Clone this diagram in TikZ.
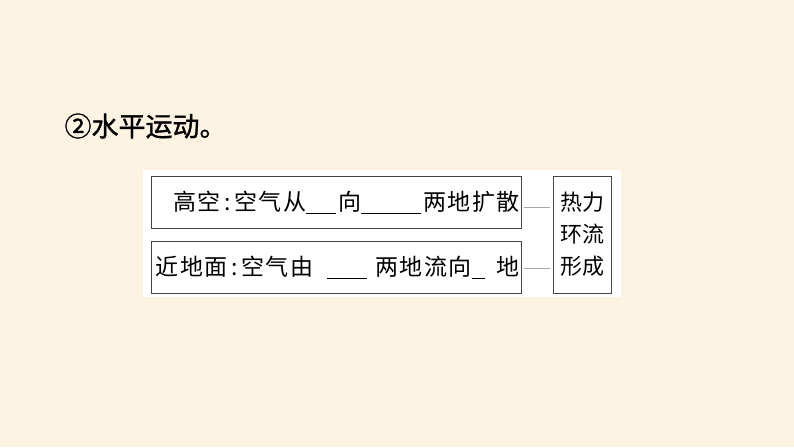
\documentclass[tikz,border=0pt]{standalone}
\usepackage{fontspec}
\usepackage{tikz}
\newfontfamily\cjk{Noto Sans CJK SC}
\newfontfamily\cjkbold{Noto Sans CJK SC}[FakeBold=1.2]
\newfontfamily\cjkbox[LetterSpace=6]{Noto Sans CJK SC}
\definecolor{paper}{RGB}{253,243,227}
\definecolor{boxline}{RGB}{70,70,70}
\newcommand{\blank}[1]{\rule[-3pt]{#1}{0.7pt}}

\begin{document}
\begin{tikzpicture}[x=1pt,y=-1pt,
  box/.style={draw=boxline,line width=0.9pt,inner xsep=2pt,inner ysep=0pt},
  link/.style={draw=gray!70,line width=0.6pt}]
\fill[paper] (0,0) rectangle (794,447);
\useasboundingbox (0,0) rectangle (794,447);
\fill[white] (143,170) rectangle (621,297);
\node[anchor=west,font=\cjkbold\fontsize{27}{30}\selectfont] (title) at (61,126) {②水平运动。};
% left boxes
\node[box,minimum width=370,minimum height=52,text width=366,align=right,
  font=\cjkbox\fontsize{23}{24}\selectfont] (hi) at (336.5,202) {高空\,:\,空气从\blank{30pt}\hspace{2pt}向\blank{60pt}\hspace{2pt}两地扩散};
\node[box,minimum width=370,minimum height=52,text width=366,align=right,
  font=\cjkbox\fontsize{23}{24}\selectfont] (lo) at (336.5,267) {近地面\,:\,空气由\hspace{14pt}\blank{40pt}\hspace{8pt}两地流向\blank{13pt}\hspace{12pt}地};
% right box
\node[box,minimum width=58,minimum height=117,align=center,
  font=\cjk\fontsize{22}{32}\selectfont] (res) at (582,234.5) {热力\\环流\\形成};
\draw[link] ([shift={(2,5)}]hi.east) -- ([shift={(-3,5)}]hi.east -| res.west);
\draw[link] ([shift={(2,1)}]lo.east) -- ([shift={(-3,1)}]lo.east -| res.west);
\end{tikzpicture}
\end{document}
